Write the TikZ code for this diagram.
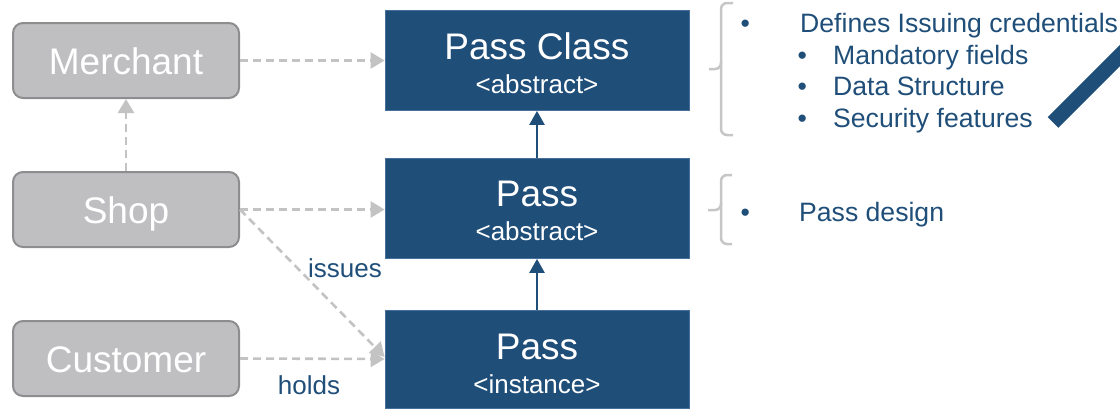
\documentclass[tikz,border=0pt]{standalone}
\usepackage{fontspec}
\setmainfont{Liberation Sans}
\usetikzlibrary{arrows.meta}
\definecolor{passblue}{HTML}{1F4E79}
\definecolor{passedge}{HTML}{46709A}
\definecolor{actorfill}{HTML}{BFBFC1}
\definecolor{actoredge}{HTML}{8D8D8F}
\definecolor{linkgray}{HTML}{C3C3C3}
\definecolor{bracegray}{HTML}{C6C6C6}
\newcommand\bigtext{\fontsize{37}{34}\selectfont}
\newcommand\smalltext{\fontsize{26}{34}\selectfont}
\newcommand\notetext{\fontsize{26.6}{32}\selectfont}
\begin{document}
\begin{tikzpicture}[x=1pt,y=-1pt,
  actor/.style={draw=actoredge,line width=2pt,fill=actorfill,rounded corners=10pt,
    minimum width=226pt,minimum height=75pt,inner sep=0pt,
    text=white,font=\bigtext,text height=27pt,text depth=0pt},
  passbox/.style={draw=passedge,line width=0.8pt,fill=passblue,
    minimum width=304pt,minimum height=100pt,inner sep=0pt},
  passlabel/.style={text=white,font=\bigtext,align=center,inner sep=0pt},
  link/.style={draw=linkgray,line width=2.6pt,dash pattern=on 8pt off 5pt,
    -{Triangle[length=14pt,width=16pt]}},
  inherit/.style={draw=passblue,line width=2.5pt,
    -{Triangle[length=14pt,width=15pt]}},
  lbl/.style={text=passblue,font=\smalltext,inner sep=0pt,anchor=base},
  note/.style={text=passblue,font=\notetext,inner sep=0pt,anchor=base west},
  brace/.style={draw=bracegray,line width=2.5pt,rounded corners=6pt}
]
\useasboundingbox (0,0) rectangle (1120,408);

% actors
\node[actor] (merchant) at (126,60.5) {Merchant};
\node[actor] (shop)     at (126,209.5) {Shop};
\node[actor] (customer) at (126,358.5) {Customer};

% pass hierarchy
\node[passbox] (passclass) at (537,60.5) {};
\node[passbox] (passabs) at (537,208.5) {};
\node[passbox,minimum height=98pt] (passinst) at (537,359) {};
\node[passlabel,yshift=-2.25pt] (passclass-text) at (passclass.center) {Pass Class\\\smalltext <abstract>};
\node[passlabel,yshift=-2.75pt] (passabs-text) at (passabs.center) {Pass\\\smalltext <abstract>};
\node[passlabel,yshift=-4.75pt] (passinst-text) at (passinst.center) {Pass\\\smalltext <instance>};

% relations
\draw[link] (merchant.east) -- (passclass.west |- merchant.east);
\draw[link] (shop.north) -- (merchant.south);
\draw[link] (shop.east) -- (passabs.west |- shop.east);
\draw[link] (shop.east) -- ([yshift=2pt]passinst.west);
\draw[link] (customer.east) -- (passinst.west);
\node[lbl] (issues) at (345,277) {issues};
\node[lbl] (holds) at (309,394) {holds};

\draw[inherit] (passinst.north) -- (passabs.south);
\draw[inherit] (passabs.north) -- (passclass.south);

% braces
\draw[brace] (733,3) -- (721,3) -- (721,69) -- (709,69);
\draw[brace] (721,62) -- (721,135) -- (733,135);
\draw[brace] (732,175) -- (721,175) -- (721,210) -- (708,210);
\draw[brace] (721,203) -- (721,244) -- (732,244);

% notes
\node[note] (b1) at (740.4,32) {•};
\node[note] (t1) at (800,32) {Defines Issuing credentials};
\node[note] (b2) at (797.4,64) {•};
\node[note] (t2) at (833,64) {Mandatory fields};
\node[note] (b3) at (797.4,95.5) {•};
\node[note] (t3) at (833,95.5) {Data Structure};
\node[note] (b4) at (797.4,127) {•};
\node[note] (t4) at (833,127) {Security features};
\node[note] (b5) at (740.4,221) {•};
\node[note] (t5) at (799,221) {Pass design};

% accent bar
\draw[passblue,line width=15pt] (1053,122.5) -- (1140,35.5);
\end{tikzpicture}
\end{document}
